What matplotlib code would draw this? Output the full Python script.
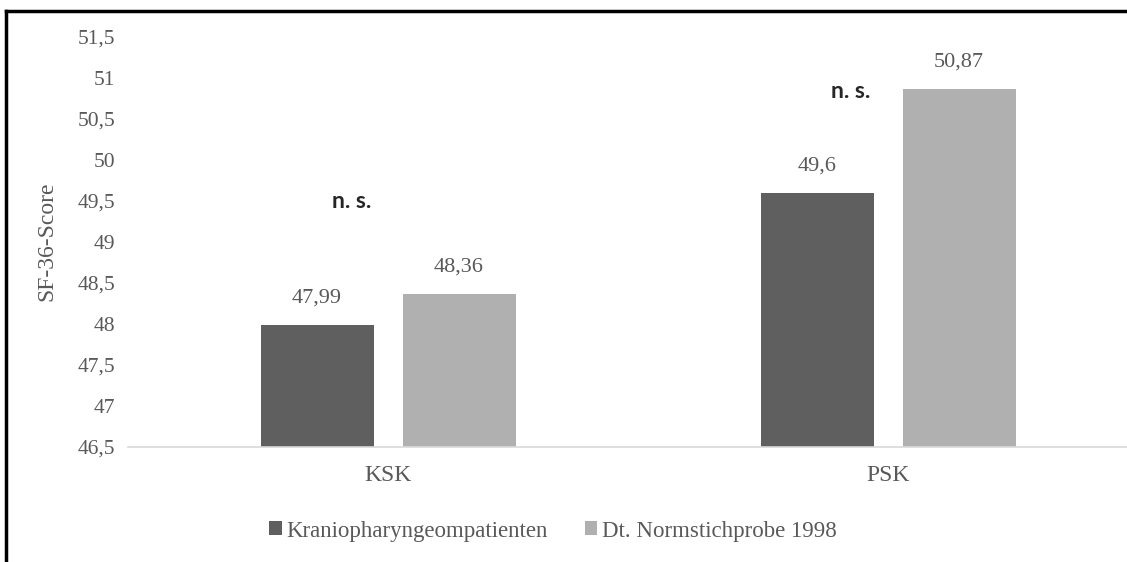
import matplotlib
matplotlib.use("Agg")
import matplotlib.pyplot as plt
from matplotlib.patches import Patch
from matplotlib.lines import Line2D
import numpy as np

categories = ["KSK", "PSK"]
series_names = ["Kraniopharyngeompatienten", "Dt. Normstichprobe 1998"]
patienten = [47.99, 49.6]
normstichprobe = [48.36, 50.87]
value_labels_p = ["47,99", "49,6"]
value_labels_n = ["48,36", "50,87"]
ytick_values = [46.5, 47, 47.5, 48, 48.5, 49, 49.5, 50, 50.5, 51, 51.5]
ytick_labels = ["46,5", "47", "47,5", "48", "48,5", "49", "49,5", "50", "50,5", "51", "51,5"]
sig_labels = ["n. s.", "n. s."]

dark = "#5f5f5f"
light = "#b0b0b0"
txt = "#595959"
serif = ["Liberation Serif", "DejaVu Serif"]

W, H = 1127, 562
fig = plt.figure(figsize=(W / 100, H / 100), dpi=100)
ax = fig.add_axes([128 / W, 1 - 447 / H, 1 - 128 / W, (447 - 37) / H])

x = np.arange(len(categories))
bw = 0.226
off = 0.142
base = 46.5
b1 = ax.bar(x - off, np.array(patienten) - base, bw, bottom=base, color=dark, label=series_names[0])
b2 = ax.bar(x + off, np.array(normstichprobe) - base, bw, bottom=base, color=light, label=series_names[1])

for bars, labs in ((b1, value_labels_p), (b2, value_labels_n)):
    for r, lab in zip(bars, labs):
        ax.annotate(lab, (r.get_x() + r.get_width() / 2, r.get_y() + r.get_height()),
                    xytext=(0, 19.5), textcoords="offset points", ha="center", va="center",
                    fontsize=16, color=txt, family=serif)

# significance annotations
sig_x = [-0.072, 1 - 0.074]
sig_y = [49.415, 50.756]
for sx, sy, s in zip(sig_x, sig_y, sig_labels):
    ax.text(sx, sy, s, ha="center", va="baseline", fontsize=16.5, fontweight="bold",
            color="#262626", family=["Lato", "DejaVu Sans"])

ax.set_xlim(-0.52, 1.478)
ax.set_ylim(46.5, 51.5)
ax.set_yticks(ytick_values)
ax.set_yticklabels(ytick_labels)
ax.set_xticks(x)
ax.set_xticklabels(categories)
ax.tick_params(axis="y", length=0, pad=9, labelsize=15.5, labelcolor=txt)
ax.tick_params(axis="x", length=0, pad=13, labelsize=17, labelcolor=txt)
for lab in ax.get_xticklabels() + ax.get_yticklabels():
    lab.set_family(serif)
for s in ("top", "right", "left"):
    ax.spines[s].set_visible(False)
ax.spines["bottom"].set_color("#d9d9d9")
ax.spines["bottom"].set_linewidth(1.2)

fig.text(47 / W, 1 - 241 / H, "SF-36-Score", rotation=90, ha="center", va="center",
         fontsize=17, color=txt, family=serif)

handles = [Patch(facecolor=dark), Patch(facecolor=light)]
fig.legend(handles, series_names, loc="center", bbox_to_anchor=(553 / W, 1 - 531 / H),
           ncol=2, frameon=False, handlelength=0.55, handleheight=0.55, handletextpad=0.2,
           columnspacing=1.6, prop={"family": serif, "size": 16.5}, labelcolor=txt)

# outer black border (left and top)
fig.add_artist(Line2D([6 / W, 6 / W], [0, 1 - 11 / H], color="black", lw=2.5, transform=fig.transFigure))
fig.add_artist(Line2D([6 / W, 1], [1 - 11 / H, 1 - 11 / H], color="black", lw=2.5, transform=fig.transFigure))

fig.savefig("out.png", dpi=100)
